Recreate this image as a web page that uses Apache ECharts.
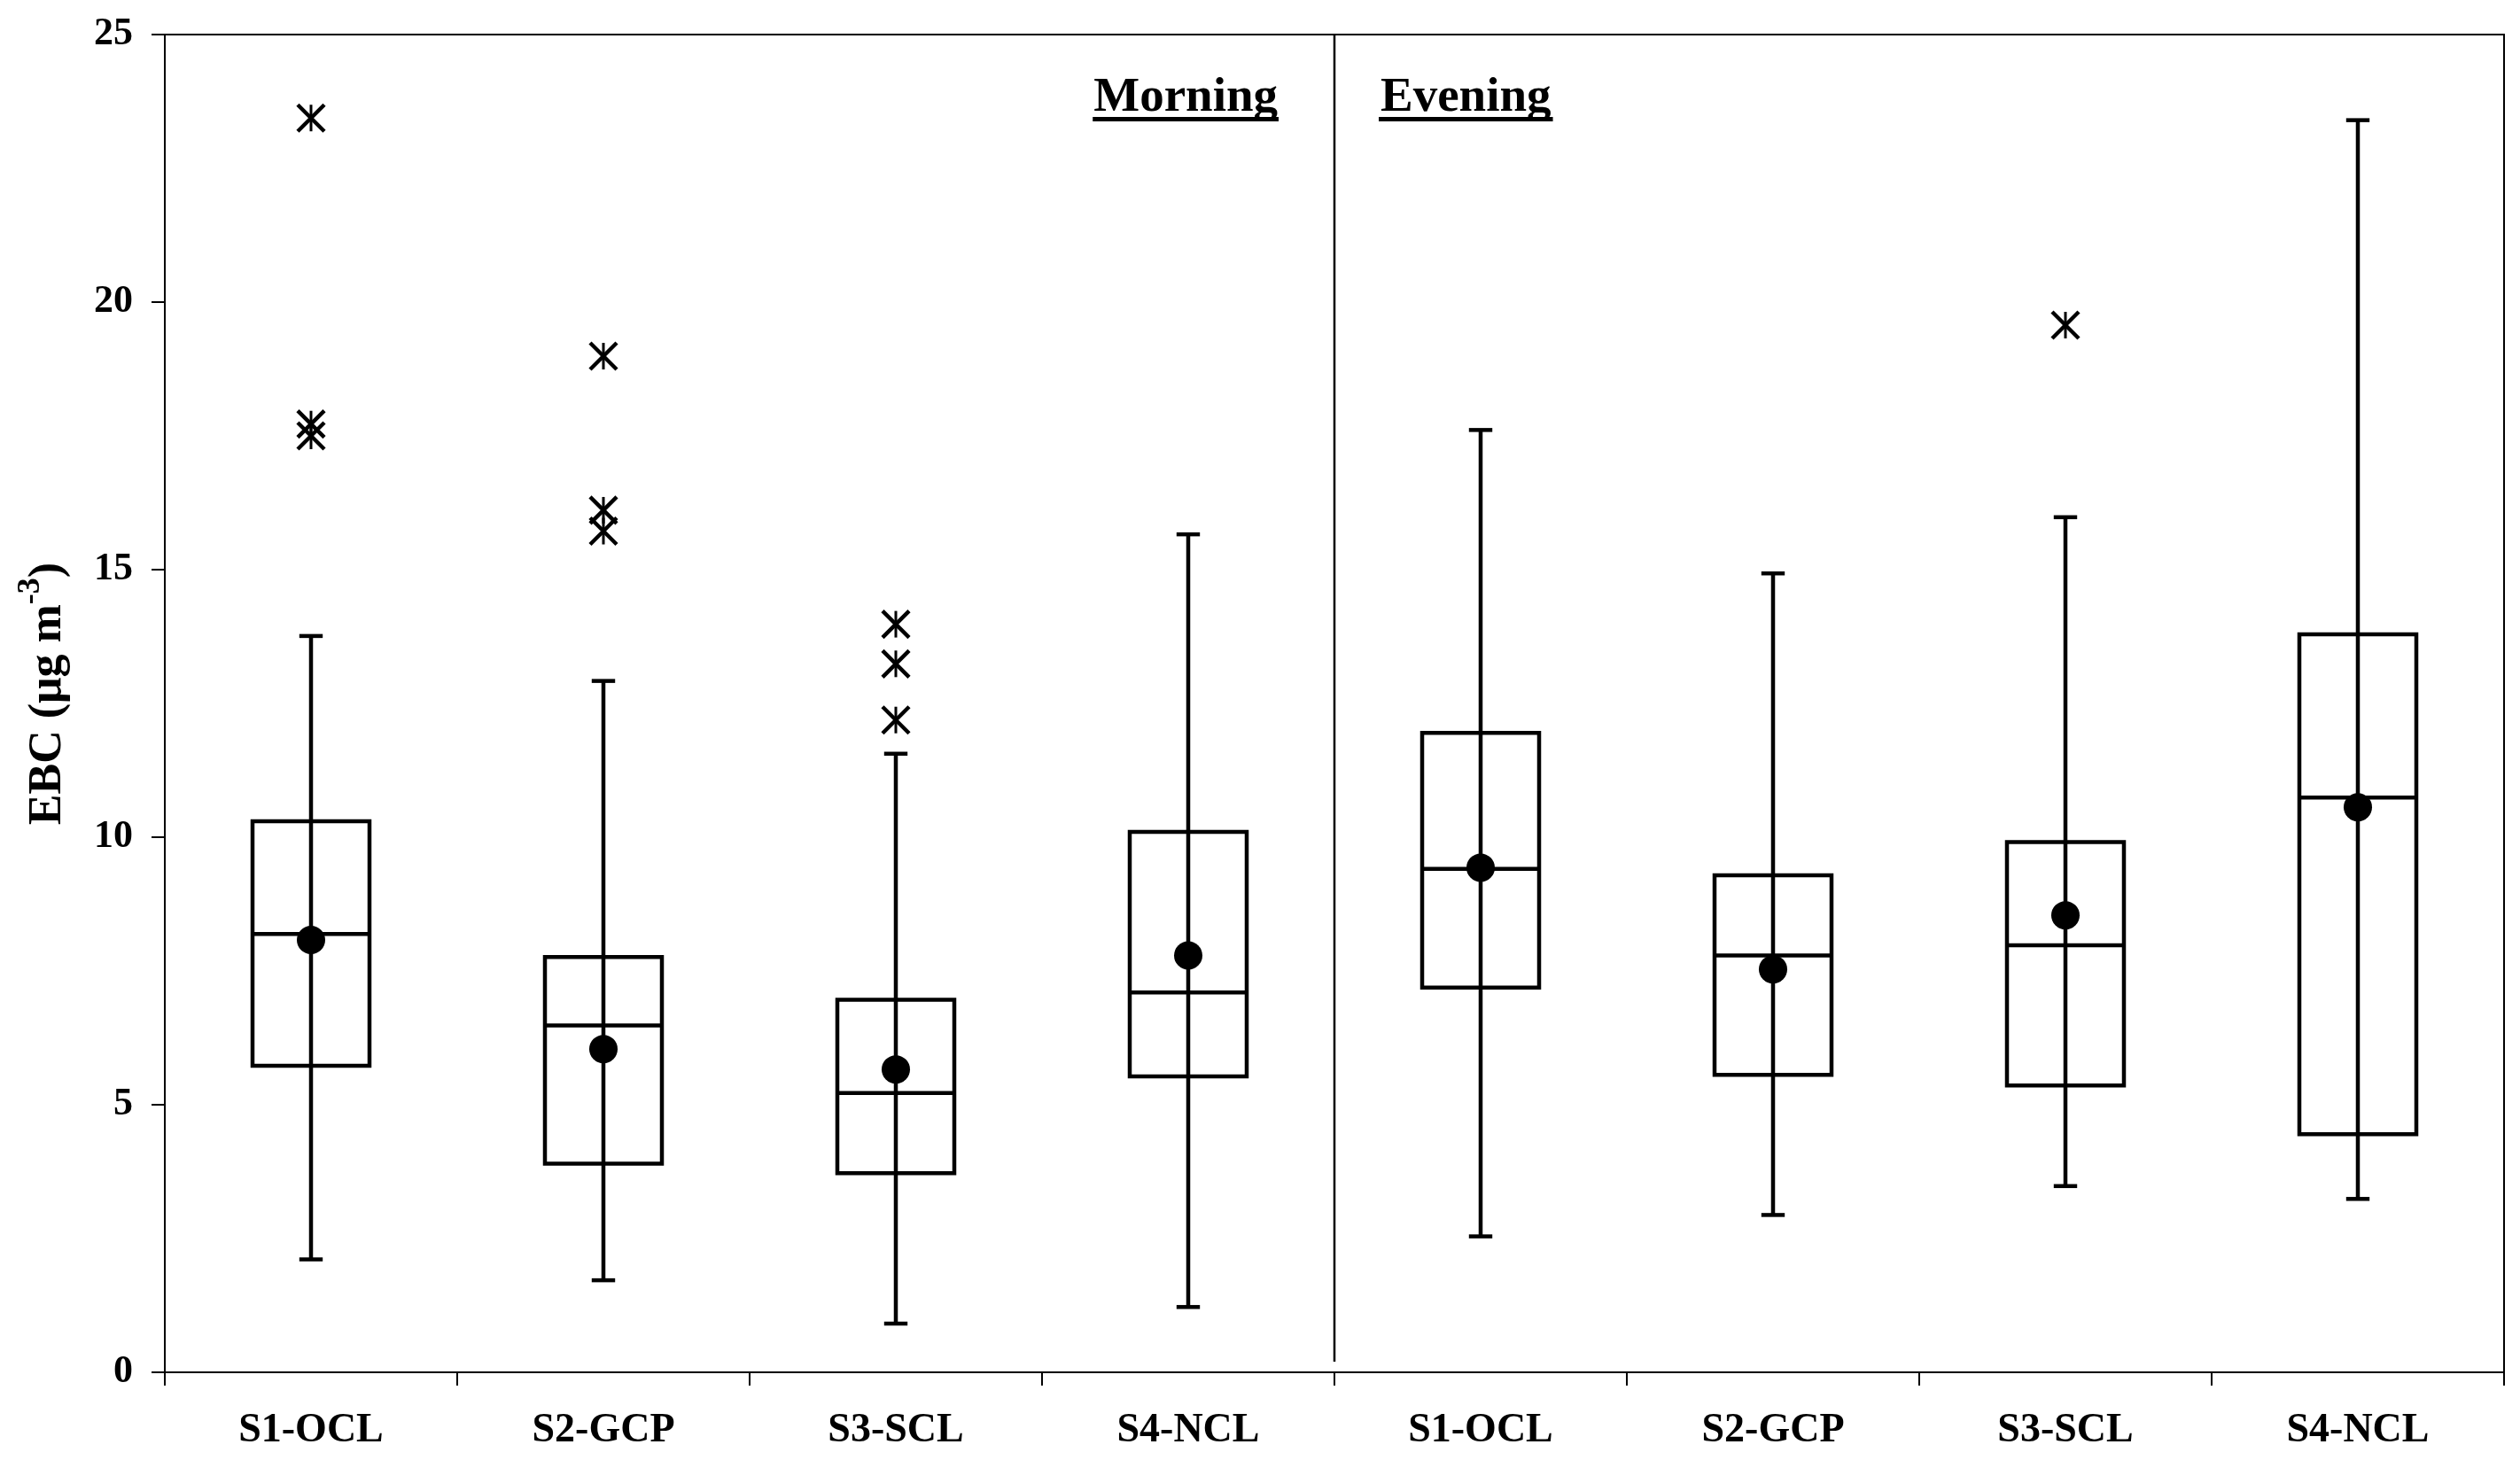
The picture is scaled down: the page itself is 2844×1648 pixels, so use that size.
<!DOCTYPE html>
<html>
<head>
<meta charset="utf-8">
<script src="https://cdn.jsdelivr.net/npm/echarts@6/dist/echarts.min.js"></script>
<style>
html,body{margin:0;padding:0;background:#fff;}
#c{width:2844px;height:1648px;}
</style>
</head>
<body>
<div id="c"></div>
<script>
// ---- data ----
const sites = ['S1-OCL', 'S2-GCP', 'S3-SCL', 'S4-NCL'];
const periods = ['Morning', 'Evening'];
const categories = sites.concat(sites);
const whiskerLow  = [2.11, 1.72, 0.91, 1.22, 2.54, 2.94, 3.48, 3.24];
const q1          = [5.73, 3.90, 3.72, 5.53, 7.19, 5.56, 5.36, 4.45];
const median      = [8.19, 6.48, 5.22, 7.10, 9.41, 7.79, 7.98, 10.74];
const q3          = [10.30, 7.76, 6.96, 10.10, 11.95, 9.29, 9.91, 13.79];
const whiskerHigh = [13.76, 12.92, 11.56, 15.66, 17.61, 14.93, 15.98, 23.40];
const mean        = [8.08, 6.04, 5.66, 7.79, 9.43, 7.53, 8.54, 10.56];
const outlierCategory = [0, 0, 0, 1, 1, 1, 2, 2, 2, 6];
const outlierValue    = [23.44, 17.72, 17.50, 18.99, 16.11, 15.72, 13.98, 13.24, 12.19, 19.57];
const yTicks = [0, 5, 10, 15, 20, 25];

const FONT = '"Liberation Serif", "Times New Roman", serif';

const boxData = categories.map((c, i) => [i, whiskerLow[i], q1[i], median[i], q3[i], whiskerHigh[i], mean[i]]);
const outlierData = outlierCategory.map((c, i) => [c, outlierValue[i]]);

const LW = 4.5;
function renderBox(params, api) {
  const x = api.value(0);
  const lo = api.coord([x, api.value(1)]);
  const b1 = api.coord([x, api.value(2)]);
  const md = api.coord([x, api.value(3)]);
  const b3 = api.coord([x, api.value(4)]);
  const hi = api.coord([x, api.value(5)]);
  const mn = api.coord([x, api.value(6)]);
  const band = api.size([1, 0])[0];
  const cx = lo[0];
  const hb = band * 0.2;
  const hc = band * 0.04;
  const st = { stroke: '#000', lineWidth: LW, fill: null };
  return {
    type: 'group',
    children: [
      { type: 'line', shape: { x1: cx, y1: lo[1], x2: cx, y2: hi[1] }, style: st },
      { type: 'line', shape: { x1: cx - hc, y1: lo[1], x2: cx + hc, y2: lo[1] }, style: st },
      { type: 'line', shape: { x1: cx - hc, y1: hi[1], x2: cx + hc, y2: hi[1] }, style: st },
      { type: 'rect', shape: { x: cx - hb, y: b3[1], width: 2 * hb, height: b1[1] - b3[1] }, style: st },
      { type: 'line', shape: { x1: cx - hb, y1: md[1], x2: cx + hb, y2: md[1] }, style: st },
      { type: 'circle', shape: { cx: cx, cy: mn[1], r: 16 }, style: { fill: '#000' } }
    ]
  };
}
function renderStar(params, api) {
  const p = api.coord([api.value(0), api.value(1)]);
  const hx = 15, hy = 15;
  const st = { stroke: '#000', lineWidth: 4.5 };
  return {
    type: 'group',
    children: [
      { type: 'line', shape: { x1: p[0], y1: p[1] - hy, x2: p[0], y2: p[1] + hy }, style: { stroke: '#000', lineWidth: 3 } },
      { type: 'line', shape: { x1: p[0] - hx, y1: p[1] - hy, x2: p[0] + hx, y2: p[1] + hy }, style: st },
      { type: 'line', shape: { x1: p[0] - hx, y1: p[1] + hy, x2: p[0] + hx, y2: p[1] - hy }, style: st }
    ]
  };
}

// measure header text widths for underlines
const cv = document.createElement('canvas').getContext('2d');
cv.font = 'bold 55px ' + FONT;
const wM = cv.measureText(periods[0]).width;
const wE = cv.measureText(periods[1]).width;
const mRight = 1442, eLeft = 1558, hdrY = 111, ulY = 132;

const chart = echarts.init(document.getElementById('c'));
chart.setOption({
  animation: false,
  backgroundColor: '#fff',
  grid: { left: 186, right: 18, top: 39, bottom: 99, show: true, borderColor: '#000', borderWidth: 2 },
  xAxis: [{
    type: 'category',
    data: categories,
    boundaryGap: true,
    axisLine: { lineStyle: { color: '#000', width: 2 } },
    axisTick: { show: true, interval: 0, length: 15, lineStyle: { color: '#000', width: 2 } },
    axisLabel: { interval: 0, margin: 43, fontSize: 46, fontWeight: 'bold', fontFamily: FONT, color: '#000' },
    splitLine: { show: false }
  }, {
    type: 'value', min: 0, max: categories.length, show: false
  }],
  yAxis: {
    type: 'value',
    min: yTicks[0], max: yTicks[yTicks.length - 1], interval: 5,
    axisLine: { show: true, lineStyle: { color: '#000', width: 2 } },
    axisTick: { show: true, length: 15, lineStyle: { color: '#000', width: 2 } },
    axisLabel: { margin: 36, fontSize: 44, fontWeight: 'bold', fontFamily: FONT, color: '#000' },
    splitLine: { show: false },
    name: '{t|EBC (μg m}{s|-3}{t|)}',
    nameLocation: 'middle',
    nameGap: 93,
    nameTextStyle: {
      padding: [0, 0, 0, 22],
      rich: {
        t: { fontSize: 52, fontWeight: 'bold', fontFamily: FONT, color: '#000', lineHeight: 76 },
        s: { fontSize: 36, fontWeight: 'bold', fontFamily: FONT, color: '#000', lineHeight: 36, verticalAlign: 'top' }
      }
    }
  },
  series: [
    {
      type: 'line', xAxisIndex: 1, silent: true, symbol: 'none',
      data: [[sites.length, 0.2], [sites.length, yTicks[yTicks.length - 1]]],
      lineStyle: { color: '#000', width: 2.5 }
    },
    { type: 'custom', renderItem: renderBox, data: boxData, encode: { x: 0, y: [1, 2, 3, 4, 5, 6] }, silent: true },
    { type: 'custom', renderItem: renderStar, data: outlierData, encode: { x: 0, y: 1 }, silent: true }
  ],
  graphic: [
    { type: 'text', style: { text: periods[0], x: mRight, y: hdrY, textAlign: 'right', textVerticalAlign: 'middle', font: 'bold 55px ' + FONT, fill: '#000' } },
    { type: 'rect', shape: { x: mRight - wM - 1, y: ulY, width: wM + 2, height: 5 }, style: { fill: '#000' } },
    { type: 'text', style: { text: periods[1], x: eLeft, y: hdrY, textAlign: 'left', textVerticalAlign: 'middle', font: 'bold 55px ' + FONT, fill: '#000' } },
    { type: 'rect', shape: { x: eLeft - 2, y: ulY, width: wE + 4, height: 5 }, style: { fill: '#000' } }
  ]
});
</script>
</body>
</html>
